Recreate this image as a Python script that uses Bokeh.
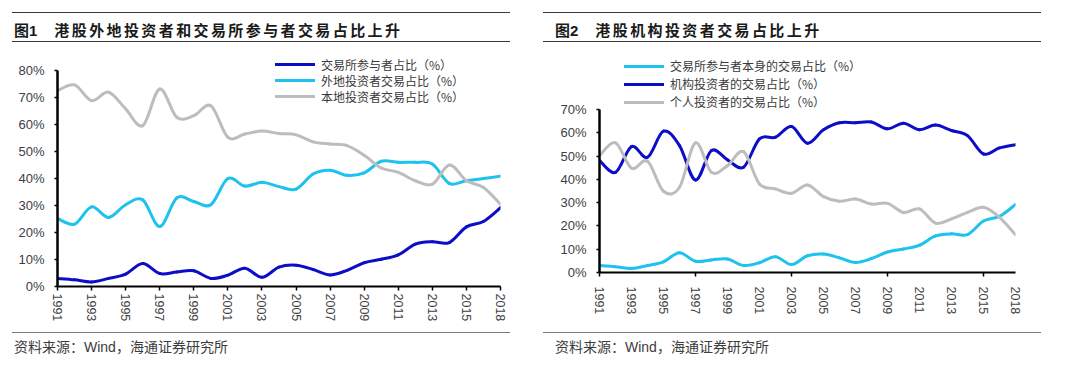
from bokeh.plotting import figure
from bokeh.models import Range1d, FixedTicker, PrintfTickFormatter, Legend, LegendItem, Div
from bokeh.layouts import row, column
from bokeh.embed import file_html
from bokeh.resources import INLINE

# ---------------- data ----------------
years = ["1991", "1992", "1993", "1994", "1995", "1996", "1997", "1998", "1999", "2000",
         "2001", "2002", "2003", "2004", "2005", "2006", "2007", "2008", "2009", "2010",
         "2011", "2012", "2013", "2014", "2015", "2016", "2018"]

# 交易所参与者占比（%） / 交易所参与者本身的交易占比（%）
exch_share = [3.0, 2.5, 1.7, 3.0, 4.6, 8.5, 4.8, 5.4, 5.8, 3.0,
              4.2, 6.8, 3.4, 7.2, 7.9, 6.3, 4.3, 6.0, 8.8, 10.1,
              11.7, 15.7, 16.6, 16.3, 22.1, 24.1, 29.2]
# 外地投资者交易占比（%）
foreign_share = [25.2, 23.1, 29.5, 25.6, 30.3, 32.1, 22.2, 32.8, 31.5, 30.3,
                 40.0, 37.2, 38.6, 37.0, 36.1, 41.7, 43.1, 41.2, 42.1, 46.4,
                 46.0, 46.0, 45.4, 38.2, 39.2, 40.0, 40.9]
# 本地投资者交易占比（%）
local_share = [72.6, 74.7, 68.9, 72.0, 65.8, 59.6, 73.2, 62.7, 63.3, 67.0,
               55.3, 56.5, 57.6, 56.7, 56.2, 53.6, 52.8, 52.2, 48.6, 43.9,
               42.3, 39.2, 37.9, 45.0, 39.2, 36.7, 30.5]
# 机构投资者的交易占比（%）
inst_share = [48.1, 43.0, 54.1, 49.5, 60.7, 54.5, 39.7, 52.4, 48.4, 45.2,
              57.4, 58.1, 62.7, 55.5, 61.3, 64.3, 64.3, 64.6, 61.7, 64.1,
              61.3, 63.3, 61.0, 58.8, 50.9, 53.5, 54.9]
# 个人投资者的交易占比（%）
indiv_share = [50.2, 55.7, 44.8, 47.8, 34.9, 36.6, 55.7, 43.0, 45.9, 51.9,
               38.0, 35.9, 34.0, 37.6, 32.6, 30.6, 31.6, 29.4, 29.7, 25.8,
               27.3, 21.2, 23.0, 25.8, 28.0, 23.7, 16.2]

title1 = "港股外地投资者和交易所参与者交易占比上升"
title2 = "港股机构投资者交易占比上升"
source_text = "资料来源：Wind，海通证券研究所"

legend1 = ["交易所参与者占比（%）", "外地投资者交易占比（%）", "本地投资者交易占比（%）"]
legend2 = ["交易所参与者本身的交易占比（%）", "机构投资者的交易占比（%）", "个人投资者的交易占比（%）"]

BLUE = "#0D0DC8"
CYAN = "#1EC2F0"
GRAY = "#BDBDBD"
TXT = "#404040"
CJK = "Noto Sans CJK SC"
LAT = "Liberation Sans"

idx = list(range(len(years)))
overrides = {i: y for i, y in enumerate(years)}

COLW = 532


def title_div(num, text, indent, txt_indent):
    html = (
        f'<div style="margin-left:{indent}px;width:498px;margin-top:4px;'
        'border-top:1.5px solid #3a3a3a;border-bottom:1.5px solid #3a3a3a;'
        'padding-top:2px;height:30px;line-height:30px;'
        f'font-family:\'{CJK}\';font-weight:bold;font-size:15px;color:#1a1a1a;white-space:nowrap;">'
        f'<span style="margin-left:{txt_indent}px;font-family:\'{LAT}\',\'{CJK}\';">图{num}</span>'
        f'<span style="margin-left:17px;letter-spacing:2.4px;">{text}</span></div>'
    )
    return Div(text=html, width=COLW, height=42, margin=0)


def source_div(indent, txt_indent):
    html = (
        f'<div style="margin-left:{indent}px;width:498px;margin-top:2px;'
        'border-top:1.5px solid #7a7a7a;padding-top:5px;height:18px;line-height:18px;'
        f'font-family:\'{LAT}\',\'{CJK}\';font-size:14px;color:#3c3c3c;white-space:nowrap;">'
        f'<span style="margin-left:{txt_indent}px;">{source_text}</span></div>'
    )
    return Div(text=html, width=COLW, height=27, margin=0)


def smooth_line(p, xs, ys, color):
    """Smoothed line through the data points (Catmull-Rom -> cubic Bezier)."""
    n = len(xs)
    d = dict(x0=[], y0=[], x1=[], y1=[], cx0=[], cy0=[], cx1=[], cy1=[])
    for i in range(n - 1):
        im, ip = max(i - 1, 0), min(i + 2, n - 1)
        d["x0"].append(xs[i]); d["y0"].append(ys[i])
        d["x1"].append(xs[i + 1]); d["y1"].append(ys[i + 1])
        d["cx0"].append(xs[i] + (xs[i + 1] - xs[im]) / 6.0)
        d["cy0"].append(ys[i] + (ys[i + 1] - ys[im]) / 6.0)
        d["cx1"].append(xs[i + 1] - (xs[ip] - xs[i]) / 6.0)
        d["cy1"].append(ys[i + 1] - (ys[ip] - ys[i]) / 6.0)
    return p.bezier(line_color=color, line_width=3, line_cap="round", **d)


def make_fig(series, labels, colors, ymax_axis, ytop, border_left, border_right,
             border_bottom, minor, tick_out, x_standoff, leg_x, leg_ys):
    p = figure(width=COLW, height=280, output_backend="svg", toolbar_location=None,
               x_range=Range1d(0, len(years) - 1), y_range=Range1d(0, ytop),
               min_border_left=border_left, min_border_right=border_right,
               min_border_top=5, min_border_bottom=border_bottom,
               background_fill_color="white", border_fill_color="white")
    p.outline_line_color = None
    p.xgrid.grid_line_color = None
    p.ygrid.grid_line_color = None

    rends = [smooth_line(p, idx, ys, c) for ys, c in zip(series, colors)]

    # x axis
    xa = p.xaxis[0]
    xa.ticker = FixedTicker(ticks=list(range(0, len(years), 2)), minor_ticks=minor)
    xa.major_label_overrides = overrides
    xa.major_label_orientation = "vertical"
    xa.major_label_text_font = LAT
    xa.major_label_text_font_size = "12.5px"
    xa.major_label_text_color = TXT
    xa.major_label_standoff = x_standoff
    xa.axis_line_color = "black"
    xa.axis_line_width = 2
    xa.major_tick_line_color = "black"
    xa.major_tick_line_width = 1.5
    xa.major_tick_in = 0
    xa.major_tick_out = tick_out
    xa.minor_tick_line_color = "black"
    xa.minor_tick_line_width = 1.5
    xa.minor_tick_in = 0
    xa.minor_tick_out = 4 if minor else 0

    # y axis
    ya = p.yaxis[0]
    ya.ticker = FixedTicker(ticks=list(range(0, ymax_axis + 1, 10)))
    ya.formatter = PrintfTickFormatter(format="%d%%")
    ya.bounds = (0, ymax_axis)
    ya.major_label_text_font = LAT
    ya.major_label_text_font_size = "13px"
    ya.major_label_text_color = TXT
    ya.major_label_standoff = 10
    ya.axis_line_color = "black"
    ya.axis_line_width = 2.5
    ya.major_tick_line_color = "black"
    ya.major_tick_line_width = 1.5
    ya.major_tick_in = 0
    ya.major_tick_out = 3
    ya.minor_tick_line_color = None

    # legend: one single-item legend per row, so rows can sit closer together
    for lab, r, ly in zip(labels, rends, leg_ys):
        leg = Legend(items=[LegendItem(label=lab, renderers=[r])], location=(leg_x, ly),
                     glyph_width=40, glyph_height=12, label_height=12,
                     label_standoff=6, spacing=0, padding=0, margin=0,
                     label_text_font=CJK, label_text_font_size="12px",
                     label_text_color="#3a3a3a",
                     border_line_color=None, background_fill_alpha=0)
        p.add_layout(leg, "center")
    return p


# Panel 1
p1 = make_fig([exch_share, foreign_share, local_share], legend1, [BLUE, CYAN, GRAY],
              ymax_axis=80, ytop=85.6, border_left=49, border_right=40,
              border_bottom=44, minor=[], tick_out=4, x_standoff=3,
              leg_x=218, leg_ys=[213.5, 197.5, 181.5])

# Panel 2 (legend order: cyan, blue, gray)
p2 = make_fig([exch_share, inst_share, indiv_share], legend2, [CYAN, BLUE, GRAY],
              ymax_axis=70, ytop=93.2, border_left=59, border_right=57,
              border_bottom=58, minor=[0, 6, 12, 18, 24], tick_out=0, x_standoff=10,
              leg_x=25, leg_ys=[198, 180, 162])

col1 = column(title_div(1, title1, 4, 2), p1, source_div(4, 2), spacing=0)
col2 = column(title_div(2, title2, 3, 12), p2, source_div(3, 12), spacing=0)
layout = row(col1, col2, spacing=0, margin=(8, 8, 0, 8))

open("out.html", "w").write(file_html(layout, INLINE, title="港股投资者交易占比"))
